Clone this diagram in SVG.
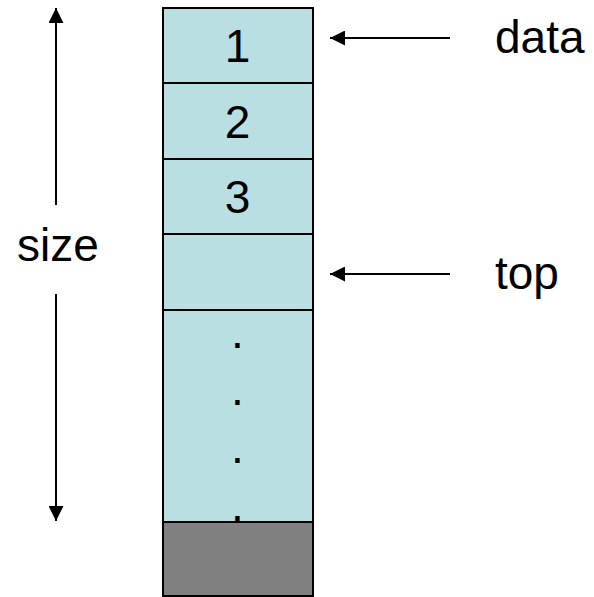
<svg xmlns="http://www.w3.org/2000/svg" width="594" height="597" viewBox="0 0 594 597">
<style>
.cell{fill:#B9DFE3;stroke:#000;stroke-width:2}
.gray{fill:#808080;stroke:#000;stroke-width:2}
.t{font-family:"Liberation Sans",Arial,sans-serif;font-size:46px;fill:#000}
.c{text-anchor:middle}
.ln{stroke:#000;stroke-width:2;fill:none}
</style>
<defs>
<marker id="ah" viewBox="0 0 10 10" refX="10" refY="5" markerWidth="8" markerHeight="8" markerUnits="userSpaceOnUse" orient="auto">
<path d="M0,0 L10,5 L0,10 Z" fill="#000"/>
</marker>
<marker id="ah2" viewBox="0 0 10 10" refX="10" refY="5" markerWidth="7.5" markerHeight="7.5" orient="auto">
<path d="M0,0 L10,5 L0,10 Z" fill="#000"/>
</marker>
</defs>
<g id="cell1"><rect class="cell" x="163" y="8" width="150" height="75"/><text class="t c" x="237.5" y="62">1</text></g>
<g id="cell2"><rect class="cell" x="163" y="83" width="150" height="76"/><text class="t c" x="237.5" y="138">2</text></g>
<g id="cell3"><rect class="cell" x="163" y="159" width="150" height="75"/><text class="t c" x="237.5" y="213">3</text></g>
<g id="cell4"><rect class="cell" x="163" y="234" width="150" height="76"/></g>
<g id="cell5"><rect class="cell" x="163" y="310" width="150" height="212"/>
<text class="t c" x="237.5" y="348">.</text>
<text class="t c" x="237.5" y="405">.</text>
<text class="t c" x="237.5" y="463">.</text>
<text class="t c" x="237.5" y="521">.</text></g>
<g id="cell6"><rect class="gray" x="163" y="522" width="150" height="74"/></g>
<g id="labels">
<text class="t" x="495" y="53">data</text>
<text class="t" x="495" y="289">top</text>
<text class="t c" x="58" y="261">size</text>
</g>
<g id="connectors">
<line class="ln" x1="450" y1="38" x2="330" y2="38" marker-end="url(#ah2)"/>
<line class="ln" x1="450" y1="274" x2="330" y2="274" marker-end="url(#ah2)"/>
<line class="ln" x1="56" y1="205" x2="56" y2="8" marker-end="url(#ah2)"/>
<line class="ln" x1="56" y1="294" x2="56" y2="521" marker-end="url(#ah2)"/>
</g>
</svg>
